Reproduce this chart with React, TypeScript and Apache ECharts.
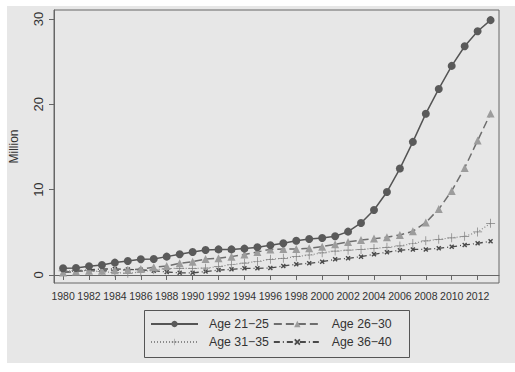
import React, { useEffect, useRef } from "react";
import * as echarts from "echarts";

const years: number[] = [];
for (let y = 1980; y <= 2013; y++) years.push(y);

const tickYears = [1980, 1982, 1984, 1986, 1988, 1990, 1992, 1994, 1996, 1998, 2000, 2002, 2004, 2006, 2008, 2010, 2012];
const yTicks = [0, 10, 20, 30];

const age2125 = [0.78, 0.82, 1.02, 1.17, 1.45, 1.64, 1.84, 1.88, 2.15, 2.42,
  2.7, 2.93, 3.0, 3.0, 3.09, 3.24, 3.48, 3.71, 4.02, 4.22,
  4.34, 4.53, 5.08, 6.1, 7.62, 9.73, 12.47, 15.6, 18.9, 21.8,
  24.5, 26.8, 28.56, 29.86];
const age2630 = [0.3, 0.4, 0.5, 0.5, 0.55, 0.6, 0.7, 0.9, 1.05, 1.37,
  1.56, 1.88, 1.95, 2.15, 2.4, 2.7, 3.0, 3.05, 3.05, 3.13,
  3.32, 3.6, 3.87, 4.1, 4.26, 4.42, 4.69, 5.12, 6.15, 7.72,
  9.85, 12.55, 15.75, 18.93];
const age3135 = [0.47, 0.5, 0.5, 0.4, 0.27, 0.2, 0.35, 0.6, 0.75, 0.78,
  0.78, 0.8, 1.0, 1.2, 1.4, 1.58, 1.84, 1.95, 2.15, 2.34,
  2.6, 2.8, 2.9, 3.0, 3.1, 3.24, 3.4, 3.69, 4.0, 4.18,
  4.36, 4.53, 5.04, 6.05];
const age3640 = [0.3, 0.5, 0.6, 0.7, 0.7, 0.65, 0.6, 0.5, 0.35, 0.25,
  0.25, 0.4, 0.57, 0.66, 0.78, 0.78, 0.82, 1.05, 1.25, 1.37,
  1.56, 1.84, 1.95, 2.15, 2.42, 2.66, 2.9, 3.0, 3.0, 3.12,
  3.3, 3.52, 3.71, 3.95];

const names = ["Age 21\u221225", "Age 26\u221230", "Age 31\u221235", "Age 36\u221240"];

const PLUS = "path://M0,9.2 H20 V10.8 H0 Z M9.2,0 H10.8 V20 H9.2 Z";
const CROSS = "path://M2,0 L10,8 L8,10 L0,2 Z M8,0 L10,2 L2,10 L0,8 Z";

const FONT = "'Liberation Sans', Arial, sans-serif";

export default function App() {
  const ref = useRef<HTMLDivElement>(null);
  useEffect(() => {
    if (!ref.current) return;
    const chart = echarts.init(ref.current, undefined, { renderer: "svg" });
    const pair = (arr: number[]) => years.map((y, i) => [y, arr[i]]);
    const legendCommon = {
      left: 150,
      itemWidth: 47,
      itemHeight: 8,
      itemGap: 4,
      padding: 0,
      textStyle: { fontSize: 12.3, color: "#333", fontFamily: FONT, padding: [0, 0, 0, 6] },
    };
    chart.setOption({
      animation: false,
      backgroundColor: "#ffffff",
      textStyle: { fontFamily: FONT },
      graphic: [
        { type: "rect", z: -100, silent: true, shape: { x: 7, y: 6, width: 508, height: 357 }, style: { fill: "#e7e7e7" } },
        { type: "rect", z: 100, silent: true, shape: { x: 144.5, y: 310.5, width: 265, height: 47 }, style: { fill: "none", stroke: "#555", lineWidth: 1 } },
      ],
      grid: {
        left: 52, right: 16, top: 10, bottom: 89,
        show: true, borderColor: "#666", borderWidth: 1, backgroundColor: "transparent",
      },
      legend: [
        { ...legendCommon, top: 318, data: [names[0], names[1]] },
        { ...legendCommon, top: 336, data: [names[2], names[3]] },
      ],
      xAxis: {
        type: "value",
        min: 1979.3,
        max: 2013.65,
        splitLine: { show: false },
        axisLine: { show: true, lineStyle: { color: "#666" } },
        axisTick: { show: true, length: 5, customValues: tickYears, lineStyle: { color: "#666" } },
        axisLabel: {
          customValues: tickYears,
          formatter: (v: number) => String(v),
          fontSize: 10.5, color: "#333", margin: 7, fontFamily: FONT,
        },
      },
      yAxis: {
        type: "value",
        min: -0.94,
        max: 31.05,
        name: "Million",
        nameLocation: "middle",
        nameRotate: 90,
        nameGap: 34,
        nameTextStyle: { fontSize: 12, color: "#333", fontFamily: FONT },
        splitLine: { show: false },
        axisLine: { show: true, lineStyle: { color: "#666" } },
        axisTick: { show: true, length: 5, customValues: yTicks, lineStyle: { color: "#666" } },
        axisLabel: {
          customValues: yTicks,
          rotate: 90,
          fontSize: 13, color: "#333", margin: 9, fontFamily: FONT,
        },
      },
      series: [
        {
          name: names[0], type: "line", data: pair(age2125),
          symbol: "circle", symbolSize: 8,
          lineStyle: { color: "#555555", width: 1.5, type: "solid" },
          itemStyle: { color: "#5a5a5a" }, z: 5,
        },
        {
          name: names[1], type: "line", data: pair(age2630),
          symbol: "triangle", symbolSize: 8,
          lineStyle: { color: "#6e6e6e", width: 1.5, type: [8, 4] },
          itemStyle: { color: "#9c9c9c" }, z: 4,
        },
        {
          name: names[2], type: "line", data: pair(age3135),
          symbol: PLUS, symbolSize: 9,
          lineStyle: { color: "#8a8a8a", width: 1.2, type: [1, 2] },
          itemStyle: { color: "#808080" }, z: 3,
        },
        {
          name: names[3], type: "line", data: pair(age3640),
          symbol: CROSS, symbolSize: 5,
          lineStyle: { color: "#4a4a4a", width: 1.3, type: [6, 3, 1, 3] },
          itemStyle: { color: "#4a4a4a" }, z: 2,
        },
      ],
    });
    return () => chart.dispose();
  }, []);
  return (
    <div
      ref={ref}
      style={{ position: "fixed", left: 0, top: 0, width: 515, height: 372 }}
    />
  );
}
